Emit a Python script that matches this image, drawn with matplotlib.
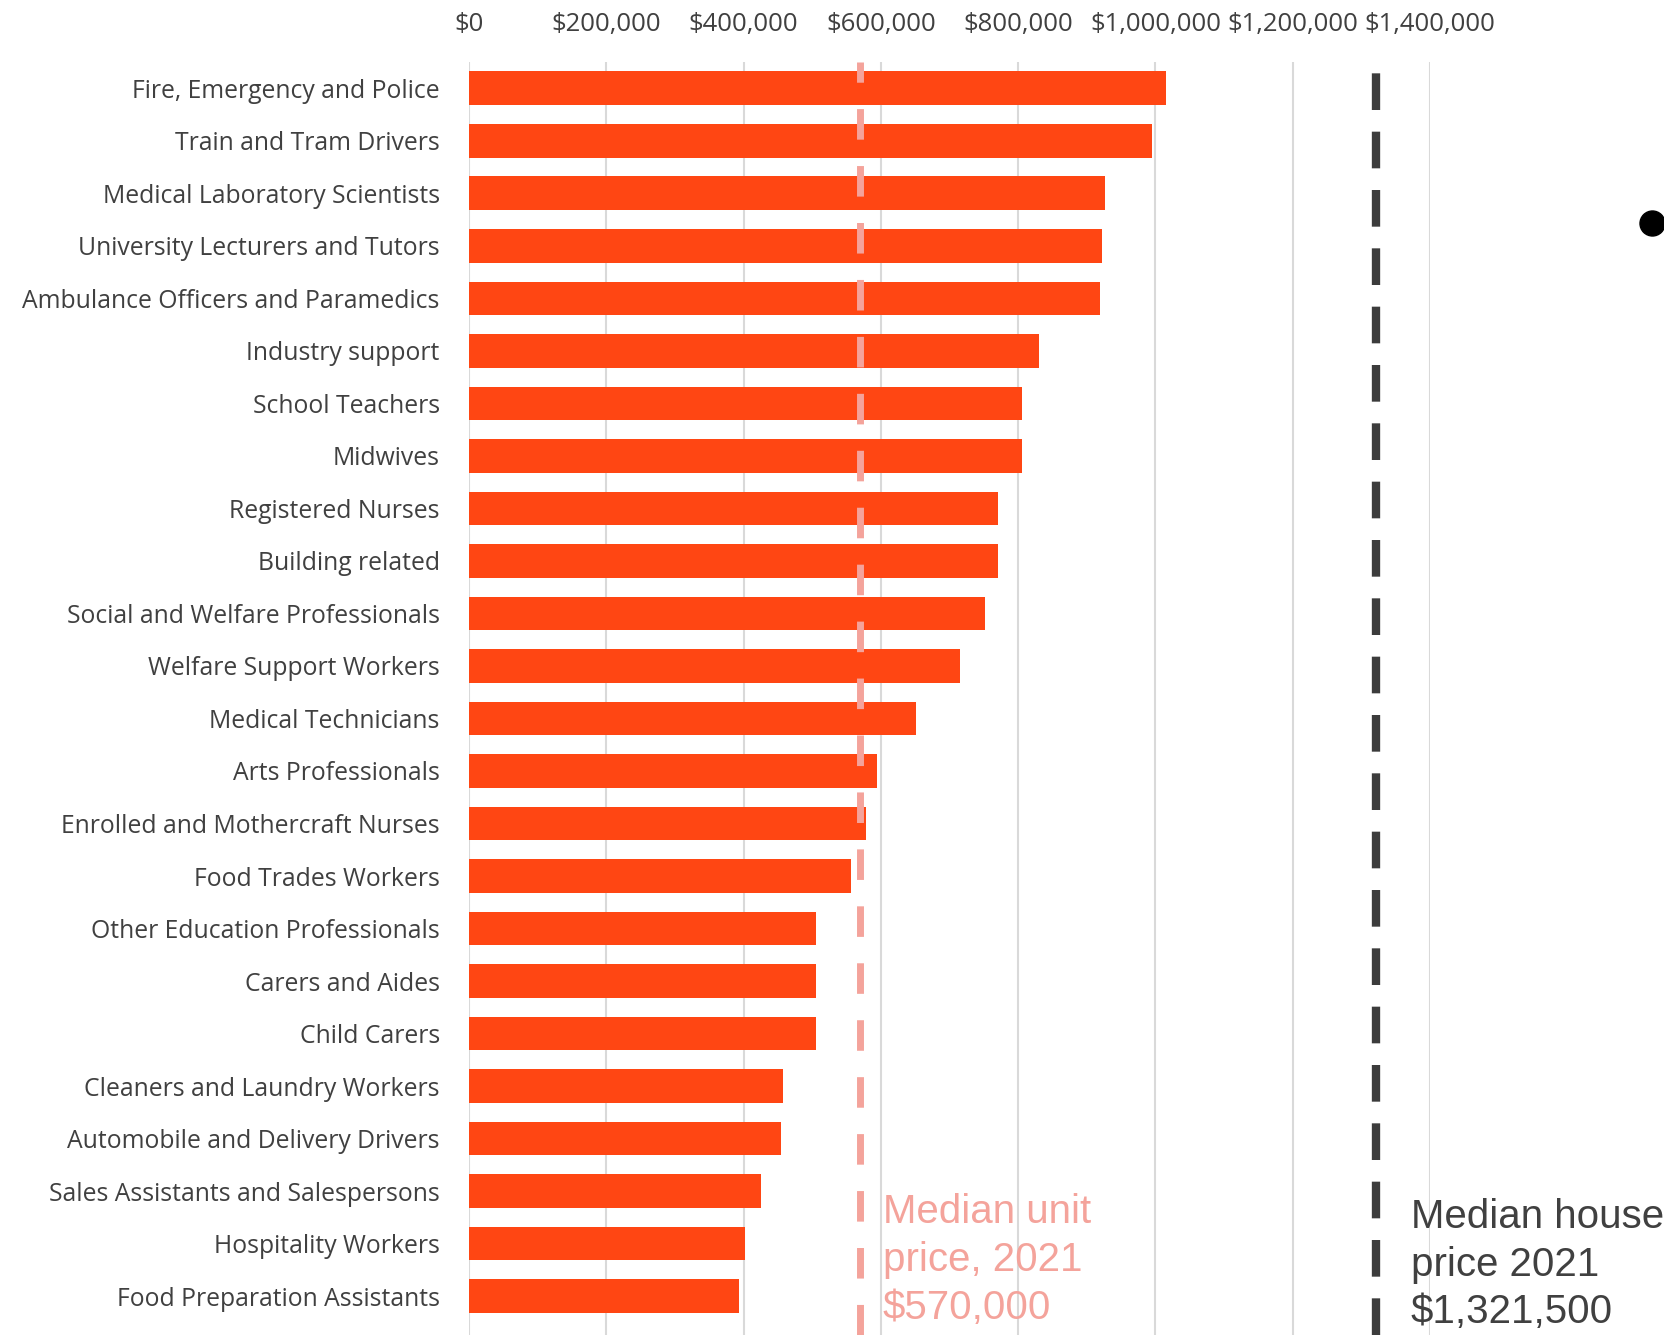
import matplotlib.pyplot as plt
from matplotlib.lines import Line2D
from matplotlib.ticker import FuncFormatter

occupations = [
    'Fire, Emergency and Police',
    'Train and Tram Drivers',
    'Medical Laboratory Scientists',
    'University Lecturers and Tutors',
    'Ambulance Officers and Paramedics',
    'Industry support',
    'School Teachers',
    'Midwives',
    'Registered Nurses',
    'Building related',
    'Social and Welfare Professionals',
    'Welfare Support Workers',
    'Medical Technicians',
    'Arts Professionals',
    'Enrolled and Mothercraft Nurses',
    'Food Trades Workers',
    'Other Education Professionals',
    'Carers and Aides',
    'Child Carers',
    'Cleaners and Laundry Workers',
    'Automobile and Delivery Drivers',
    'Sales Assistants and Salespersons',
    'Hospitality Workers',
    'Food Preparation Assistants',
]
affordable_price = [
    1016000, 995000, 926000, 922000, 919000, 831000, 806000, 806000,
    771000, 771000, 751000, 715000, 651000, 594000, 578000, 557000,
    506000, 506000, 506000, 458000, 455000, 425000, 402000, 394000,
]
median_unit = 570000
median_house = 1321500

bar_color = '#FF4613'
unit_color = '#F4A39B'
house_color = '#3C3C3C'
text_color = '#404040'

fig = plt.figure(figsize=(16.64, 13.35), dpi=100)
ax = fig.add_axes([469 / 1664, 0, 961 / 1664, 1273 / 1335])

y = list(range(len(occupations)))
ax.barh(y, affordable_price, height=0.64, color=bar_color, zorder=2)

ax.axvline(median_unit, color=unit_color, lw=5, dashes=(4.4, 3.8), zorder=3)
ax.axvline(median_house, color=house_color, lw=6, dashes=(4.4, 2.6), zorder=3)

ax.set_xlim(0, 1400000)
ax.set_ylim(23.74, -0.5)
ax.set_yticks(y)
ax.set_yticklabels(occupations, family='Open Sans', fontsize=17.8, color=text_color)
ax.set_xticks(range(0, 1400001, 200000))
ax.xaxis.set_major_formatter(FuncFormatter(lambda v, p: f'${v:,.0f}'))
ax.xaxis.tick_top()
ax.tick_params(axis='x', length=0, pad=18, labelsize=18.5, labelcolor=text_color)
ax.tick_params(axis='y', length=0, pad=21)
for lbl in ax.get_xticklabels():
    lbl.set_family('Open Sans')
ax.grid(axis='x', color='#D9D9D9', lw=1.5, zorder=0)
ax.set_axisbelow(True)
for s in ax.spines.values():
    s.set_visible(False)

# reference line captions, stacked below the last bars
ax.text(603000, 22.31, 'Median unit\nprice, 2021\n$570,000', color=unit_color,
        family='Liberation Sans', fontsize=29, linespacing=1.32,
        va='center', ha='left', clip_on=False)
ax.text(1372000, 22.40, 'Median house\nprice 2021\n$1,321,500', color=text_color,
        family='Liberation Sans', fontsize=29, linespacing=1.32,
        va='center', ha='left', clip_on=False)

fig.add_artist(Line2D([1652 / 1664], [1 - 223 / 1335], marker='o', markersize=18,
                      color='black', transform=fig.transFigure))

fig.savefig('out.png', dpi=100, facecolor='white')
